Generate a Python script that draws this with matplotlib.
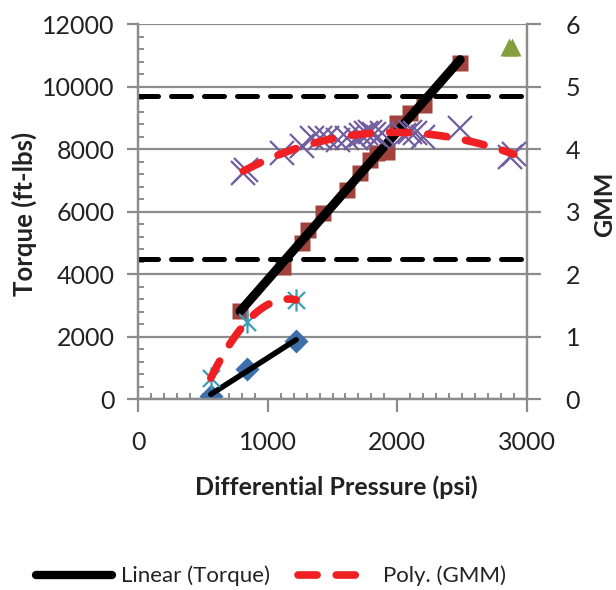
"""GMM / torque vs differential pressure, two y axes."""

import matplotlib

matplotlib.use("Agg")
import matplotlib.pyplot as plt
import numpy as np
from matplotlib.lines import Line2D
from matplotlib.path import Path
from matplotlib.ticker import MultipleLocator

plt.rcParams["font.family"] = ["Lato", "DejaVu Sans"]

# Test A: torque (blue diamonds) and GMM (cyan asterisks)
press_a = [560, 838, 1219]
torque_a = [115, 970, 1875]
gmm_a = [0.34, 1.24, 1.59]

# Test B: torque (brown squares)
press_b = [786, 1121, 1263, 1314, 1430, 1610, 1713, 1790, 1842, 1919, 2000, 2100, 2203, 2486]
torque_b = [2814, 4241, 4989, 5414, 5948, 6693, 7227, 7653, 7867, 7920, 8826, 9146, 9413, 10745]

# Test B: GMM (purple crosses)
press_gmm_b = [811, 830, 1108, 1263, 1340, 1400, 1460, 1540, 1610, 1680, 1720, 1760,
               1790, 1820, 1850, 1880, 2050, 2100, 2140, 2200, 2486, 2872, 2900]
gmm_b = [3.62, 3.66, 3.93, 4.05, 4.18, 4.18, 4.18, 4.15, 4.17, 4.18, 4.22, 4.25,
         4.28, 4.24, 4.20, 4.26, 4.22, 4.28, 4.25, 4.20, 4.33, 3.88, 3.92]

# lone point (green triangles)
press_c = [2860, 2885]
gmm_c = [5.64, 5.64]

# GMM limit lines
gmm_limits = [4.85, 2.24]

GRAY = "#8c8c8c"
TEXT = "#222222"

asterisk = Path(
    [(-1, -1), (1, 1), (-1, 1), (1, -1), (0, -1.3), (0, 1.3)],
    [Path.MOVETO, Path.LINETO, Path.MOVETO, Path.LINETO, Path.MOVETO, Path.LINETO],
)

fig = plt.figure(figsize=(6.16, 5.9), dpi=100)
ax = fig.add_axes([0.2245, 0.3232, 0.6306, 0.6361])
ax2 = ax.twinx()

ax.set_xlim(0, 3000)
ax.set_ylim(0, 12000)
ax2.set_ylim(0, 6)

# torque markers and linear trend lines
ax.plot(press_b, torque_b, "s", color="#a2423d", ms=12, mec="none", zorder=3)
ax.plot(press_a, torque_a, "D", color="#3d6fad", ms=12, mec="none", zorder=3)

fit_a = np.polyfit(press_a, torque_a, 1)
xa = np.array([min(press_a), max(press_a)])
ax.plot(xa, np.polyval(fit_a, xa), color="black", lw=4, solid_capstyle="round", zorder=4)

fit_b = np.polyfit(press_b, torque_b, 1)
xb = np.array([min(press_b), max(press_b)])
ax.plot(xb, np.polyval(fit_b, xb), color="black", lw=6.5, solid_capstyle="round", zorder=4)

# GMM markers and polynomial trend lines
ax2.plot(press_gmm_b, gmm_b, ls="none", marker="x", color="#725e9e", ms=17, mew=1.6, zorder=3)
ax2.plot(press_a, gmm_a, ls="none", marker=asterisk, color="#3a9eb5", ms=16, mew=1.6, zorder=3)
ax2.plot(press_c, gmm_c, "^", color="#84a03e", ms=13, mec="none", zorder=3)

red_kw = dict(color="#ee2024", lw=5.5, ls=(0, (2.5, 2.5)), dash_capstyle="round", zorder=4)
fit_ga = np.polyfit(press_a, gmm_a, 2)
xga = np.linspace(min(press_a), max(press_a), 100)
ax2.plot(xga, np.polyval(fit_ga, xga), **red_kw)

fit_gb = np.polyfit(press_gmm_b, gmm_b, 3)
xgb = np.linspace(min(press_gmm_b), max(press_gmm_b), 200)
ax2.plot(xgb, np.polyval(fit_gb, xgb), **red_kw)

for lim in gmm_limits:
    ax2.axhline(lim, color="black", lw=3.6, ls=(0, (4, 2.6)), dash_capstyle="round", zorder=2)

# axes styling
ax.xaxis.set_major_locator(MultipleLocator(1000))
ax.xaxis.set_minor_locator(MultipleLocator(100))
ax.yaxis.set_major_locator(MultipleLocator(2000))
ax.yaxis.set_minor_locator(MultipleLocator(400))
ax2.yaxis.set_major_locator(MultipleLocator(1))

ax.yaxis.grid(True, color=GRAY, lw=1.6)
ax.set_axisbelow(True)

for a in (ax, ax2):
    for side in a.spines:
        a.spines[side].set_color(GRAY)
        a.spines[side].set_linewidth(1.6)
    a.spines["top"].set_visible(False)

ax.tick_params(axis="x", which="major", direction="out", length=9, width=1.6,
               color=GRAY, labelsize=18, pad=14, labelcolor=TEXT)
ax.tick_params(axis="y", which="major", direction="out", length=8, width=1.6,
               color=GRAY, labelsize=18, pad=9, labelcolor=TEXT)
ax.tick_params(which="minor", direction="in", length=4, width=1.4, color=GRAY)
ax2.tick_params(axis="y", which="major", direction="out", length=10, width=1.6,
                color=GRAY, labelsize=18, pad=18, labelcolor=TEXT)

fig.text(336.5 / 616, 1 - 487 / 590, "Differential Pressure (psi)", ha="center", va="center",
         fontsize=18, fontweight="bold", color=TEXT)
fig.text(24 / 616, 1 - 214 / 590, "Torque (ft-lbs)", ha="center", va="center", rotation=90,
         fontsize=18.5, fontweight="bold", color=TEXT)
fig.text(605 / 616, 1 - 204 / 590, "GMM", ha="center", va="center", rotation=90,
         fontsize=18, fontweight="bold", color=TEXT)

handles = [
    Line2D([], [], color="black", lw=6, solid_capstyle="round"),
    Line2D([], [], color="#ee2024", lw=5.5, ls=(0, (2.5, 2.5)), dash_capstyle="round"),
]
fig.legend(handles, ["Linear (Torque)", "Poly. (GMM)"], loc="center",
           bbox_to_anchor=(0.44, 1 - 576 / 590), ncol=2, frameon=False, fontsize=16,
           handlelength=3.4, handletextpad=0.4, columnspacing=1.3, labelcolor=TEXT)

fig.savefig("out.png", dpi=100)
